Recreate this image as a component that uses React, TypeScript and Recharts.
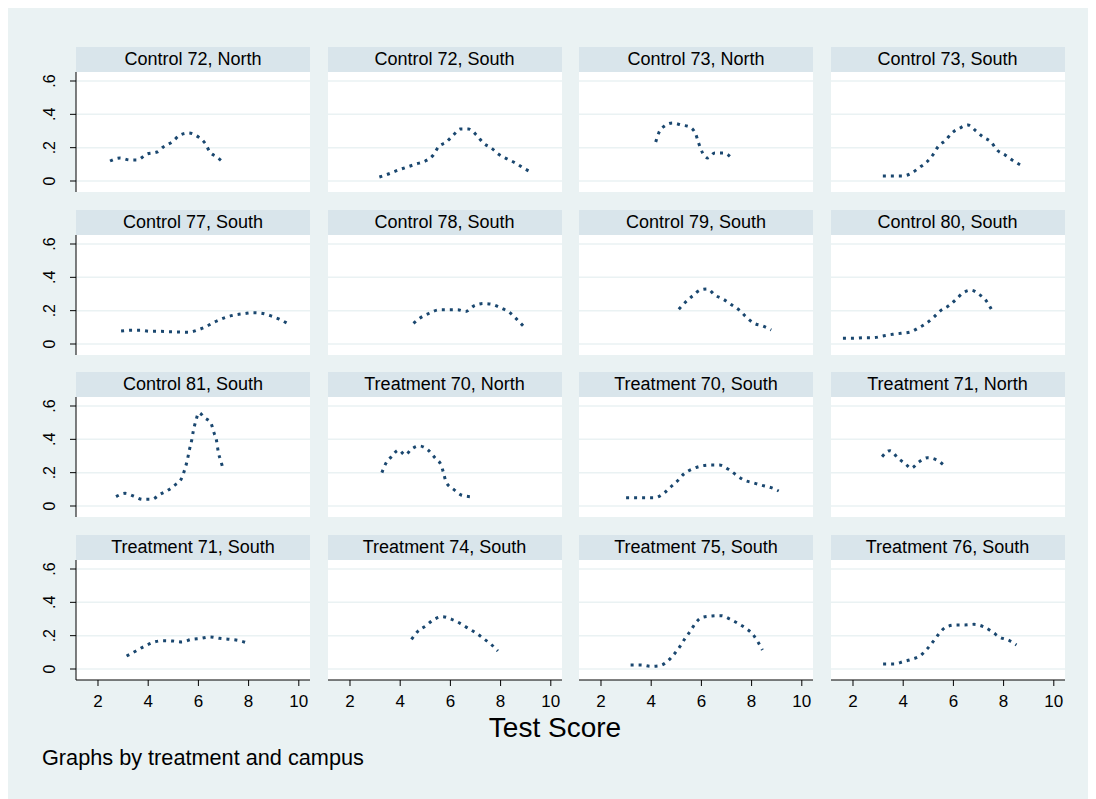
import { LineChart, Line, XAxis, YAxis, ReferenceLine } from "recharts"

// density estimates: [test score, density]
const control72North = [[2.48, 0.12], [2.88, 0.138], [3.27, 0.126], [3.55, 0.126], [3.95, 0.162], [4.35, 0.174], [4.6, 0.204], [4.95, 0.234], [5.27, 0.276], [5.6, 0.288], [6.0, 0.264], [6.26, 0.228], [6.46, 0.174], [6.74, 0.144], [7.02, 0.108]]
const control72South = [[3.17, 0.024], [3.53, 0.042], [3.93, 0.066], [4.28, 0.084], [4.64, 0.102], [5.0, 0.12], [5.32, 0.156], [5.52, 0.204], [5.84, 0.234], [6.12, 0.276], [6.4, 0.312], [6.72, 0.312], [7.07, 0.27], [7.31, 0.228], [7.63, 0.198], [7.91, 0.162], [8.27, 0.132], [8.59, 0.108], [8.91, 0.078], [9.27, 0.048]]
const control73North = [[4.18, 0.234], [4.3, 0.288], [4.53, 0.33], [4.85, 0.348], [5.2, 0.336], [5.53, 0.324], [5.77, 0.282], [5.89, 0.228], [6.05, 0.168], [6.25, 0.138], [6.53, 0.168], [6.89, 0.168], [7.2, 0.138]]
const control73South = [[3.19, 0.03], [3.59, 0.03], [3.98, 0.03], [4.34, 0.048], [4.62, 0.078], [4.94, 0.114], [5.18, 0.156], [5.38, 0.204], [5.7, 0.246], [5.94, 0.288], [6.26, 0.318], [6.58, 0.336], [6.9, 0.3], [7.18, 0.264], [7.5, 0.234], [7.74, 0.186], [8.06, 0.156], [8.34, 0.126], [8.74, 0.09]]
const control77South = [[2.92, 0.078], [3.3, 0.082], [3.68, 0.082], [4.06, 0.076], [4.44, 0.076], [4.82, 0.074], [5.2, 0.072], [5.59, 0.07], [5.97, 0.084], [6.3, 0.104], [6.65, 0.132], [7.06, 0.158], [7.44, 0.174], [7.82, 0.182], [8.2, 0.188], [8.5, 0.185], [8.89, 0.169], [9.22, 0.149], [9.57, 0.122]]
const control78South = [[4.53, 0.124], [4.78, 0.155], [5.14, 0.183], [5.55, 0.205], [5.9, 0.205], [6.28, 0.205], [6.61, 0.195], [6.94, 0.229], [7.32, 0.243], [7.63, 0.239], [8.03, 0.215], [8.39, 0.185], [8.64, 0.149], [8.9, 0.108]]
const control79South = [[5.1, 0.209], [5.35, 0.249], [5.65, 0.289], [5.98, 0.325], [6.24, 0.33], [6.54, 0.293], [6.87, 0.269], [7.2, 0.235], [7.51, 0.203], [7.81, 0.158], [8.09, 0.125], [8.45, 0.108], [8.78, 0.084]]
const control80South = [[1.6, 0.034], [2.0, 0.034], [2.43, 0.038], [2.82, 0.038], [3.19, 0.048], [3.58, 0.058], [3.91, 0.064], [4.29, 0.072], [4.59, 0.095], [4.9, 0.122], [5.23, 0.163], [5.48, 0.199], [5.81, 0.229], [6.12, 0.269], [6.37, 0.305], [6.7, 0.323], [7.05, 0.295], [7.31, 0.259], [7.51, 0.209]]
const control81South = [[2.72, 0.056], [3.08, 0.076], [3.41, 0.06], [3.78, 0.04], [4.14, 0.04], [4.47, 0.07], [4.8, 0.096], [5.07, 0.126], [5.33, 0.166], [5.47, 0.226], [5.56, 0.276], [5.64, 0.336], [5.73, 0.392], [5.8, 0.452], [5.89, 0.506], [6.02, 0.56], [6.24, 0.53], [6.49, 0.5], [6.62, 0.44], [6.73, 0.386], [6.79, 0.326], [6.89, 0.272], [6.99, 0.22]]
const treatment70North = [[3.27, 0.2], [3.43, 0.256], [3.65, 0.296], [3.94, 0.336], [4.2, 0.306], [4.44, 0.34], [4.77, 0.36], [5.11, 0.336], [5.4, 0.286], [5.63, 0.246], [5.73, 0.196], [5.84, 0.14], [6.13, 0.1], [6.43, 0.066], [6.79, 0.056]]
const treatment70South = [[3.0, 0.05], [3.41, 0.05], [3.78, 0.05], [4.14, 0.05], [4.53, 0.08], [4.76, 0.112], [5.04, 0.15], [5.3, 0.192], [5.64, 0.222], [6.0, 0.24], [6.37, 0.246], [6.72, 0.246], [7.08, 0.22], [7.39, 0.186], [7.69, 0.156], [8.05, 0.14], [8.41, 0.124], [8.78, 0.11], [9.08, 0.09]]
const treatment71North = [[3.16, 0.296], [3.47, 0.332], [3.8, 0.286], [4.11, 0.25], [4.31, 0.226], [4.64, 0.266], [4.97, 0.29], [5.33, 0.276], [5.66, 0.24]]
const treatment71South = [[3.14, 0.078], [3.51, 0.108], [3.87, 0.138], [4.2, 0.16], [4.6, 0.17], [4.98, 0.168], [5.33, 0.162], [5.73, 0.178], [6.09, 0.184], [6.46, 0.192], [6.83, 0.184], [7.26, 0.178], [7.63, 0.17], [7.99, 0.154]]
const treatment74South = [[4.45, 0.178], [4.69, 0.224], [5.03, 0.26], [5.31, 0.294], [5.67, 0.314], [6.05, 0.298], [6.39, 0.274], [6.71, 0.244], [7.04, 0.214], [7.36, 0.178], [7.65, 0.144], [7.89, 0.108]]
const treatment75South = [[3.18, 0.024], [3.6, 0.024], [3.97, 0.016], [4.35, 0.02], [4.63, 0.044], [4.91, 0.088], [5.14, 0.134], [5.35, 0.184], [5.57, 0.23], [5.76, 0.274], [6.04, 0.31], [6.42, 0.318], [6.79, 0.32], [7.13, 0.3], [7.45, 0.274], [7.77, 0.244], [8.05, 0.208], [8.26, 0.16], [8.43, 0.114]]
const treatment76South = [[3.2, 0.03], [3.63, 0.03], [4.0, 0.044], [4.34, 0.058], [4.66, 0.078], [4.94, 0.118], [5.19, 0.164], [5.41, 0.208], [5.69, 0.25], [6.07, 0.264], [6.45, 0.264], [6.82, 0.268], [7.2, 0.254], [7.54, 0.224], [7.86, 0.19], [8.18, 0.174], [8.51, 0.144]]

const panelTitles = [
  "Control 72, North", "Control 72, South", "Control 73, North", "Control 73, South",
  "Control 77, South", "Control 78, South", "Control 79, South", "Control 80, South",
  "Control 81, South", "Treatment 70, North", "Treatment 70, South", "Treatment 71, North",
  "Treatment 71, South", "Treatment 74, South", "Treatment 75, South", "Treatment 76, South",
]
const panelSeries = [
  control72North, control72South, control73North, control73South,
  control77South, control78South, control79South, control80South,
  control81South, treatment70North, treatment70South, treatment71North,
  treatment71South, treatment74South, treatment75South, treatment76South,
]

const xTicks = [2, 4, 6, 8, 10]
const yTicks = [0, 0.2, 0.4, 0.6]
const yTickLabels = ["0", ".2", ".4", ".6"]

const FONT = '"Liberation Sans", Arial, sans-serif'
const BG = "#eaf2f3"
const STRIP = "#d9e5eb"
const NAVY = "#1a476f"

const colLeft = [68, 319.5, 571, 822.5]
const rowTop = [39, 201.7, 364.4, 527.1]
const PLOT_W = 234
const PLOT_H = 120
const STRIP_H = 25
const Y_AXIS_W = 40
const X_AXIS_H = 40

// vertical y labels, baseline ~21px left of the axis line
function YTick(props: any) {
  const { y, payload } = props
  const x = Y_AXIS_W - 21
  const i = yTicks.indexOf(payload.value)
  return (
    <text
      x={x}
      y={y}
      transform={`rotate(-90 ${x} ${y})`}
      textAnchor="middle"
      fontSize={16}
      fontFamily={FONT}
      fill="#000"
    >
      {yTickLabels[i]}
    </text>
  )
}

function Panel({ index }: { index: number }) {
  const row = Math.floor(index / 4)
  const col = index % 4
  const showY = col === 0
  const showX = row === 3
  const data = panelSeries[index].map(([x, y]) => ({ x, y }))
  const left = colLeft[col]
  const top = rowTop[row]
  return (
    <>
      <div
        style={{
          position: "absolute",
          left,
          top,
          width: PLOT_W,
          height: STRIP_H,
          background: STRIP,
          fontFamily: FONT,
          fontSize: 18,
          lineHeight: `${STRIP_H}px`,
          textAlign: "center",
          color: "#000",
        }}
      >
        {panelTitles[index]}
      </div>
      <div
        style={{
          position: "absolute",
          left: left - (showY ? Y_AXIS_W : 0),
          top: top + STRIP_H,
        }}
      >
        <LineChart
          width={PLOT_W + (showY ? Y_AXIS_W : 0)}
          height={PLOT_H + (showX ? X_AXIS_H : 0)}
          data={data}
          margin={{ top: 0, right: 0, bottom: 0, left: 0 }}
        >
          <rect x={showY ? Y_AXIS_W : 0} y={0} width={PLOT_W} height={PLOT_H} fill="#fff" />
          <XAxis
            type="number"
            dataKey="x"
            domain={[1.124, 10.446]}
            allowDataOverflow
            ticks={xTicks}
            hide={!showX}
            height={X_AXIS_H}
            stroke="#000"
            tickSize={6}
            tickMargin={9}
            tick={{ fontSize: 17, fontFamily: FONT, fill: "#000" }}
          />
          <YAxis
            type="number"
            domain={[-0.066, 0.654]}
            allowDataOverflow
            ticks={yTicks}
            hide={!showY}
            width={Y_AXIS_W}
            stroke="#000"
            tickSize={6}
            tick={<YTick />}
          />
          {yTicks.map((v) => (
            <ReferenceLine key={v} y={v} stroke={BG} strokeWidth={1.5} />
          ))}
          <Line
            type="monotone"
            dataKey="y"
            stroke={NAVY}
            strokeWidth={3}
            strokeDasharray="3 5"
            dot={false}
            isAnimationActive={false}
          />
        </LineChart>
      </div>
    </>
  )
}

export default function App() {
  return (
    <div style={{ position: "relative", width: 1088, height: 791, background: BG, overflow: "hidden" }}>
      <style>{"html,body{overflow:hidden}"}</style>
      {panelTitles.map((_, i) => (
        <Panel key={i} index={i} />
      ))}
      <div
        style={{
          position: "absolute",
          left: 0,
          width: 1094,
          top: 704,
          textAlign: "center",
          fontFamily: FONT,
          fontSize: 28,
          color: "#000",
        }}
      >
        Test Score
      </div>
      <div
        style={{
          position: "absolute",
          left: 34,
          top: 737,
          fontFamily: FONT,
          fontSize: 21.7,
          color: "#000",
        }}
      >
        Graphs by treatment and campus
      </div>
    </div>
  )
}
